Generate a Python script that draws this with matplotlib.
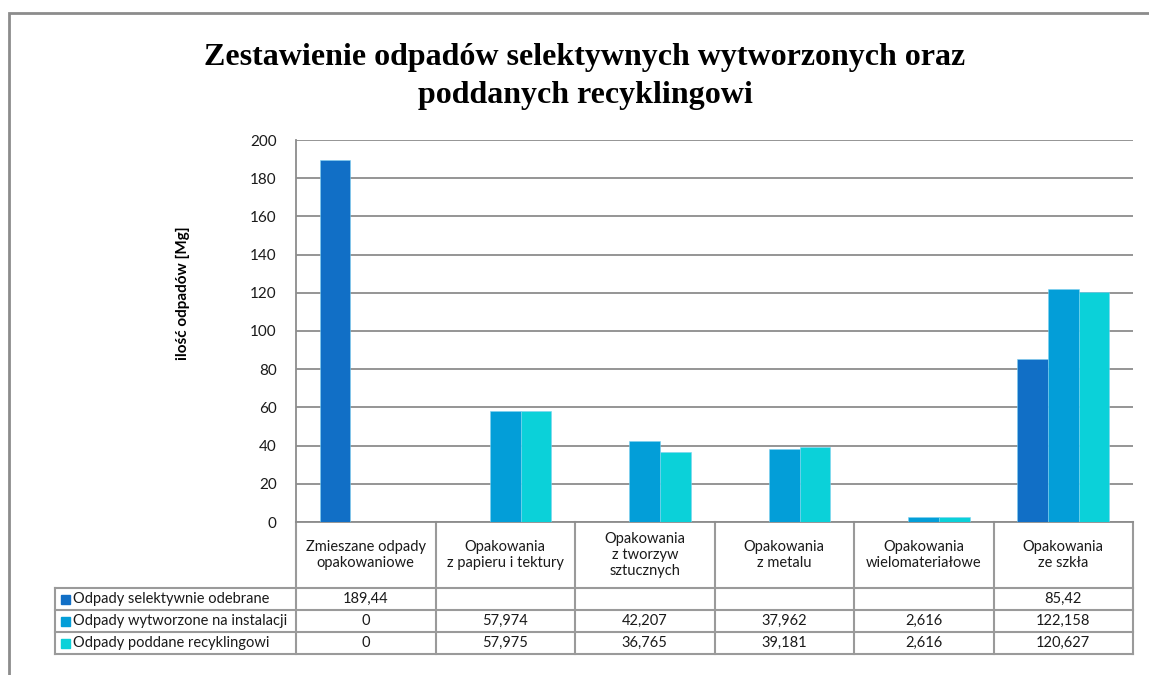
import numpy as np
import matplotlib.pyplot as plt
import matplotlib.transforms as mtrans
from matplotlib.patches import Rectangle

# --- Dane ---
kategorie = ['Zmieszane odpady\nopakowaniowe',
             'Opakowania\nz papieru i tektury',
             'Opakowania\nz tworzyw\nsztucznych',
             'Opakowania\nz metalu',
             'Opakowania\nwielomateriałowe',
             'Opakowania\nze szkła']
serie = ['Odpady selektywnie odebrane',
         'Odpady wytworzone na instalacji',
         'Odpady poddane recyklingowi']
odebrane = [189.44, None, None, None, None, 85.42]
wytworzone = [0, 57.974, 42.207, 37.962, 2.616, 122.158]
recykling = [0, 57.975, 36.765, 39.181, 2.616, 120.627]
kolory = ['#116fc6', '#039ed8', '#0bd1d9']

W, H = 1149, 675
fig = plt.figure(figsize=(W / 100, H / 100), dpi=100)
plt.rcParams['font.family'] = ['Lato', 'DejaVu Sans']

# obszar wykresu (piksele: x 296-1133, y 140-522)
L, R, T, B = 296, 1133, 140, 522
ax = fig.add_axes([L / W, 1 - B / H, (R - L) / W, (B - T) / H])

# ramka całego wykresu
fig.patches.append(Rectangle((9 / W, -0.2), 1.2, (H - 13) / H + 0.2,
                             transform=fig.transFigure, fill=False,
                             edgecolor='#8c8c8c', lw=2))

x = np.arange(len(kategorie))
w = 0.22
dane = [odebrane, wytworzone, recykling]
for i, (vals, c) in enumerate(zip(dane, kolory)):
    v = [np.nan if d is None else d for d in vals]
    ax.bar(x + (i - 1) * w, v, w, color=c, edgecolor='#7fd0f0', linewidth=0.4, zorder=3)

ax.set_xlim(-0.5, len(kategorie) - 0.5)
ax.set_ylim(0, 200)
ax.set_yticks(np.arange(0, 201, 20))
ax.set_xticks([])
ax.tick_params(axis='y', length=0, pad=14, labelsize=11, labelcolor='#1a1a1a')
ax.grid(axis='y', color='#8c8c8c', lw=1.3, zorder=0)
for s in ['top', 'right']:
    ax.spines[s].set_visible(False)
ax.spines['left'].set_color('#8c8c8c')
ax.spines['left'].set_linewidth(1.3)
ax.spines['bottom'].set_color('#8c8c8c')
ax.spines['bottom'].set_linewidth(1.3)

ax.set_ylabel('ilość odpadów [Mg]', fontsize=11, fontweight='bold')
ax.yaxis.set_label_coords(-0.127, 0.6)

fig.text(585 / W, 1 - 58 / H, 'Zestawienie odpadów selektywnych wytworzonych oraz',
         ha='center', va='center', fontsize=23, fontweight='bold',
         family='Liberation Serif')
fig.text(585 / W, 1 - 95 / H, 'poddanych recyklingowi',
         ha='center', va='center', fontsize=23, fontweight='bold',
         family='Liberation Serif')

# --- Tabela danych ---
tr = mtrans.blended_transform_factory(ax.transData, ax.transAxes)
px = lambda p: (B - p) / (B - T)          # piksel y -> ułamek osi
dx = lambda p: (p - L) / (R - L) * len(kategorie) - 0.5   # piksel x -> dane
lc = '#9a9a9a'
kw = dict(transform=tr, clip_on=False, color=lc, lw=1.5)

rows_y = [588, 610, 632, 654]
x_left = dx(55)
for i in range(len(kategorie) + 1):
    ax.plot([i - 0.5, i - 0.5], [px(B), px(654)], **kw)
ax.plot([x_left, x_left], [px(588), px(654)], **kw)
for yy in rows_y:
    ax.plot([x_left, len(kategorie) - 0.5], [px(yy), px(yy)], **kw)

fs = 10.5
for i, k in enumerate(kategorie):
    ax.text(i, px((B + 588) / 2), k, transform=tr, ha='center', va='center',
            fontsize=fs, linespacing=1.2, color='#1a1a1a')

sq = 9 / (B - T)
for r, (nazwa, vals, c) in enumerate(zip(serie, dane, kolory)):
    yc = px((rows_y[r] + rows_y[r + 1]) / 2)
    ax.add_patch(Rectangle((dx(61), yc - sq / 2), dx(70) - dx(61), sq,
                           transform=tr, clip_on=False, color=c))
    ax.text(dx(73), yc, nazwa, transform=tr, ha='left', va='center',
            fontsize=fs, color='#1a1a1a')
    for i, v in enumerate(vals):
        if v is None:
            continue
        s = ('%g' % v).replace('.', ',')
        ax.text(i, yc, s, transform=tr, ha='center', va='center',
                fontsize=fs, color='#1a1a1a')

fig.savefig('out.png', dpi=100)
